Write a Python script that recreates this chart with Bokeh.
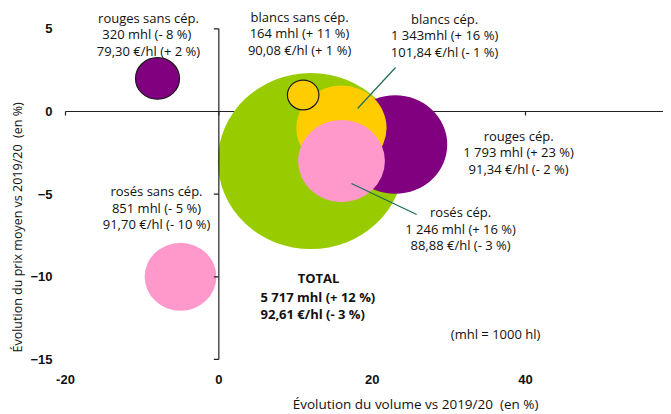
import math
from bokeh.plotting import figure
from bokeh.models import ColumnDataSource, FixedTicker, Range1d, Title
from bokeh.core.properties import value
from bokeh.embed import file_html
from bokeh.resources import INLINE

# ---------------- data ----------------
names = ["TOTAL", "rouges cép.", "blancs cép.", "rosés cép.",
         "blancs sans cép.", "rouges sans cép.", "rosés sans cép."]
vol_change = [12, 23, 16, 16, 11, -8, -5]          # % vs 2019/20
price_change = [-3, -2, -1, -3, 1, 2, -10]          # % vs 2019/20
volumes = [5717, 1793, 1343, 1246, 164, 320, 851]   # mhl
prices = [92.61, 91.34, 101.84, 88.88, 90.08, 79.30, 91.70]  # €/hl
colors = ["#99CC00", "#800080", "#FFCC00", "#FF99CC", "#FFCC00", "#800080", "#FF99CC"]
outline = [None, None, None, None, "#1a1a1a", "#1a1a1a", None]

x_ticks = [-20, 0, 20, 40]
y_ticks = [5, 0, -5, -10, -15]

label_texts = [
    "rouges sans cép.\n320  mhl (- 8 %)\n79,30 €/hl (+ 2 %)",
    "blancs sans cép.\n164 mhl (+ 11 %)\n90,08 €/hl (+ 1 %)",
    "blancs cép.\n1 343mhl (+ 16 %)\n101,84 €/hl (- 1 %)",
    "rouges cép.\n1 793 mhl (+ 23 %)\n91,34 €/hl (- 2 %)",
    "rosés cép.\n1 246 mhl (+ 16 %)\n88,88 €/hl (- 3 %)",
    "rosés sans cép.\n851 mhl (- 5 %)\n91,70 €/hl (- 10 %)",
]
label_x = [-9.17, 10.53, 29.45, 39.1, 31.53, -8.13]
label_y = [4.66, 4.72, 4.60, -2.48, -7.08, -5.81]

FONT = "Open Sans"
TXT = "#111111"
LH = 0.92

# ---------------- figure ----------------
p = figure(width=663, height=412, output_backend="svg", toolbar_location=None,
           x_range=Range1d(-21.435, 58), y_range=Range1d(-18.21, 6.23),
           min_border_left=54, min_border_right=0, min_border_top=8,
           min_border_bottom=0)
p.outline_line_color = None
p.grid.visible = False
p.background_fill_color = "white"
p.xaxis.visible = False

ax = p.yaxis[0]
ax.axis_line_color = None
ax.major_tick_line_color = None
ax.minor_tick_line_color = None
ax.major_tick_out = 0
ax.major_tick_in = 0
ax.minor_tick_out = 0
ax.minor_tick_in = 0
ax.major_label_text_font = "Liberation Sans"
ax.major_label_text_font_style = "bold"
ax.major_label_text_font_size = "13px"
ax.major_label_text_color = TXT
ax.ticker = FixedTicker(ticks=y_ticks)
ax.major_label_standoff = 2

# y axis title
p.add_layout(Title(text="Évolution du prix moyen vs 2019/20\u00a0 (en %)", align="left",
                   offset=60, text_font=FONT, text_font_size="12.5px",
                   text_font_style="normal", text_color=TXT, standoff=4), "left")

# horizontal axis line at y = 0 (behind bubbles)
p.segment(x0=[min(x_ticks)], y0=[0], x1=[58], y1=[0], line_color="#222222", line_width=1.2)
tick_dy = 4 / 16.53
p.segment(x0=x_ticks, y0=[0] * len(x_ticks), x1=x_ticks, y1=[-tick_dy] * len(x_ticks),
          line_color="#222222", line_width=1.2)

# bubbles: area proportional to volume
k_h = 93 / math.sqrt(volumes[0])
k_v = 88 / math.sqrt(volumes[0])
src = ColumnDataSource(dict(
    x=vol_change, y=price_change,
    w=[2 * k_h * math.sqrt(v) for v in volumes],
    h=[2 * k_v * math.sqrt(v) for v in volumes],
    color=colors,
    lc=[c if c else "rgba(0,0,0,0)" for c in outline],
))
p.ellipse(x="x", y="y", width="w", height="h", width_units="screen",
          height_units="screen", fill_color="color", line_color="lc",
          line_width=1.2, source=src)

# vertical axis line at x = 0
p.segment(x0=[0], y0=[min(y_ticks)], x1=[0], y1=[max(y_ticks)], line_color="#222222",
          line_width=1.2)
tick_dx = 5 / 7.665
p.segment(x0=[0] * len(y_ticks), y0=y_ticks, x1=[-tick_dx] * len(y_ticks), y1=y_ticks,
          line_color="#222222", line_width=1.2)

# x tick labels (low position, under the plot)
p.text(x=x_ticks, y=[-16.21] * len(x_ticks), text=[str(t) for t in x_ticks],
       text_align="center", text_baseline="middle", text_font=value("Liberation Sans"),
       text_font_size="13px", text_font_style="bold", text_color=TXT)
# x axis title
p.text(x=[25.66], y=[-17.67], text=["Évolution du volume vs 2019/20\u00a0 (en %)"],
       text_align="center", text_baseline="middle", text_font=value(FONT),
       text_font_size="13.5px", text_color=TXT)

# leader lines
p.segment(x0=[18.1, 17.3], y0=[0.18, -4.36], x1=[23.05, 25.8], y1=[2.66, -6.23],
          line_color="#1E6B5C", line_width=1.2)

# bubble labels
p.text(x=label_x, y=label_y, text=label_texts, text_align="center",
       text_baseline="middle", text_font=value(FONT), text_font_size="13px",
       text_color=TXT, text_line_height=LH)

# TOTAL label
p.text(x=[13.0], y=[-10.10], text=["TOTAL"], text_align="center",
       text_baseline="middle", text_font=value(FONT), text_font_size="13px",
       text_font_style="bold", text_color=TXT)
p.text(x=[5.44], y=[-11.74], text=["5 717 mhl (+ 12 %)\n92,61 €/hl (- 3 %)"],
       text_align="left", text_baseline="middle", text_font=value(FONT),
       text_font_size="13px", text_font_style="bold", text_color=TXT,
       text_line_height=LH)

p.text(x=[36.1], y=[-13.49], text=["(mhl = 1000 hl)"], text_align="center",
       text_baseline="middle", text_font=value(FONT), text_font_size="13px",
       text_color=TXT)

open("out.html", "w").write(file_html(p, INLINE))
